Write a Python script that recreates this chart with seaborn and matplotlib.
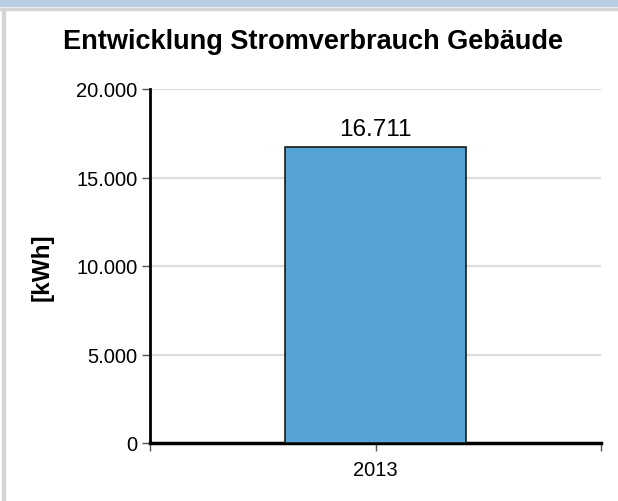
import matplotlib
matplotlib.use("Agg")
import matplotlib.pyplot as plt
import matplotlib.patches as mpatches
from matplotlib.ticker import FuncFormatter, FixedLocator
import pandas as pd
import seaborn as sns

YEARS = ["2013"]
VALUES = [16711]
Y_TICKS = [0, 5000, 10000, 15000, 20000]

TITLE = "Entwicklung Stromverbrauch Gebäude"
Y_LABEL = "[kWh]"
BAR_COLOR = "#56A3D5"


def de_thousands(v, _pos=None):
    return f"{v:,.0f}".replace(",", ".")


def main():
    sns.set_theme(style="white")
    plt.rcParams["font.family"] = ["Liberation Sans", "DejaVu Sans"]
    plt.rcParams["text.color"] = "black"
    plt.rcParams["xtick.labelcolor"] = "black"
    plt.rcParams["ytick.labelcolor"] = "black"
    plt.rcParams["axes.labelcolor"] = "black"

    df = pd.DataFrame({"year": YEARS, "value": VALUES})

    fig = plt.figure(figsize=(6.18, 5.02), dpi=100)
    ax = fig.add_axes([150 / 618, 1 - 444 / 502, 451 / 618, 354 / 502])

    sns.barplot(data=df, x="year", y="value", color=BAR_COLOR, width=0.4,
                edgecolor="#1a1a1a", linewidth=1.2, saturation=1, ax=ax, zorder=3)

    ax.set_xlim(-0.5, 0.5)
    ax.set_ylim(Y_TICKS[0], Y_TICKS[-1])
    ax.yaxis.set_major_locator(FixedLocator(Y_TICKS))
    ax.yaxis.set_major_formatter(FuncFormatter(de_thousands))
    ax.grid(axis="y", color="#dcdcdc", linewidth=1.6, zorder=0)
    ax.set_axisbelow(True)

    for side in ("top", "right"):
        ax.spines[side].set_visible(False)
    ax.spines["left"].set_color("black")
    ax.spines["left"].set_linewidth(2)
    ax.spines["bottom"].set_color("black")
    ax.spines["bottom"].set_linewidth(2.5)

    ax.set_xticks([-0.5, 0.5], minor=True)
    ax.tick_params(axis="x", which="both", direction="out", length=6, width=1,
                   color="#555555", labelsize=14.5, pad=6, bottom=True)
    ax.tick_params(axis="y", direction="out", length=6, width=1,
                   color="#555555", labelsize=14.5, pad=3, left=True)
    ax.set_xlabel("")
    ax.set_ylabel(Y_LABEL, fontsize=17.5, fontweight="bold")
    ax.yaxis.set_label_coords(-0.213, 0.5)

    for i, v in enumerate(VALUES):
        ax.annotate(de_thousands(v), (i, v), xytext=(0, 5), textcoords="offset points",
                    ha="center", va="bottom", fontsize=17.5)

    fig.text(313 / 618, 1 - 42 / 502, TITLE, ha="center", va="center",
             fontsize=19.5, fontweight="bold")

    # page frame: blue band at top and grey border lines
    fig.patches.append(mpatches.Rectangle((0, 1 - 7 / 502), 1, 7 / 502,
                                          transform=fig.transFigure, color="#b8cce4", zorder=0))
    fig.patches.append(mpatches.Rectangle((0, 1 - 11 / 502), 1, 2 / 502,
                                          transform=fig.transFigure, color="#d4d4d4", zorder=0))
    fig.patches.append(mpatches.Rectangle((2 / 618, 0), 3 / 618, 1 - 9 / 502,
                                          transform=fig.transFigure, color="#d4d4d4", zorder=0))

    fig.savefig("out.png", dpi=100)
    plt.close(fig)


if __name__ == "__main__":
    main()
